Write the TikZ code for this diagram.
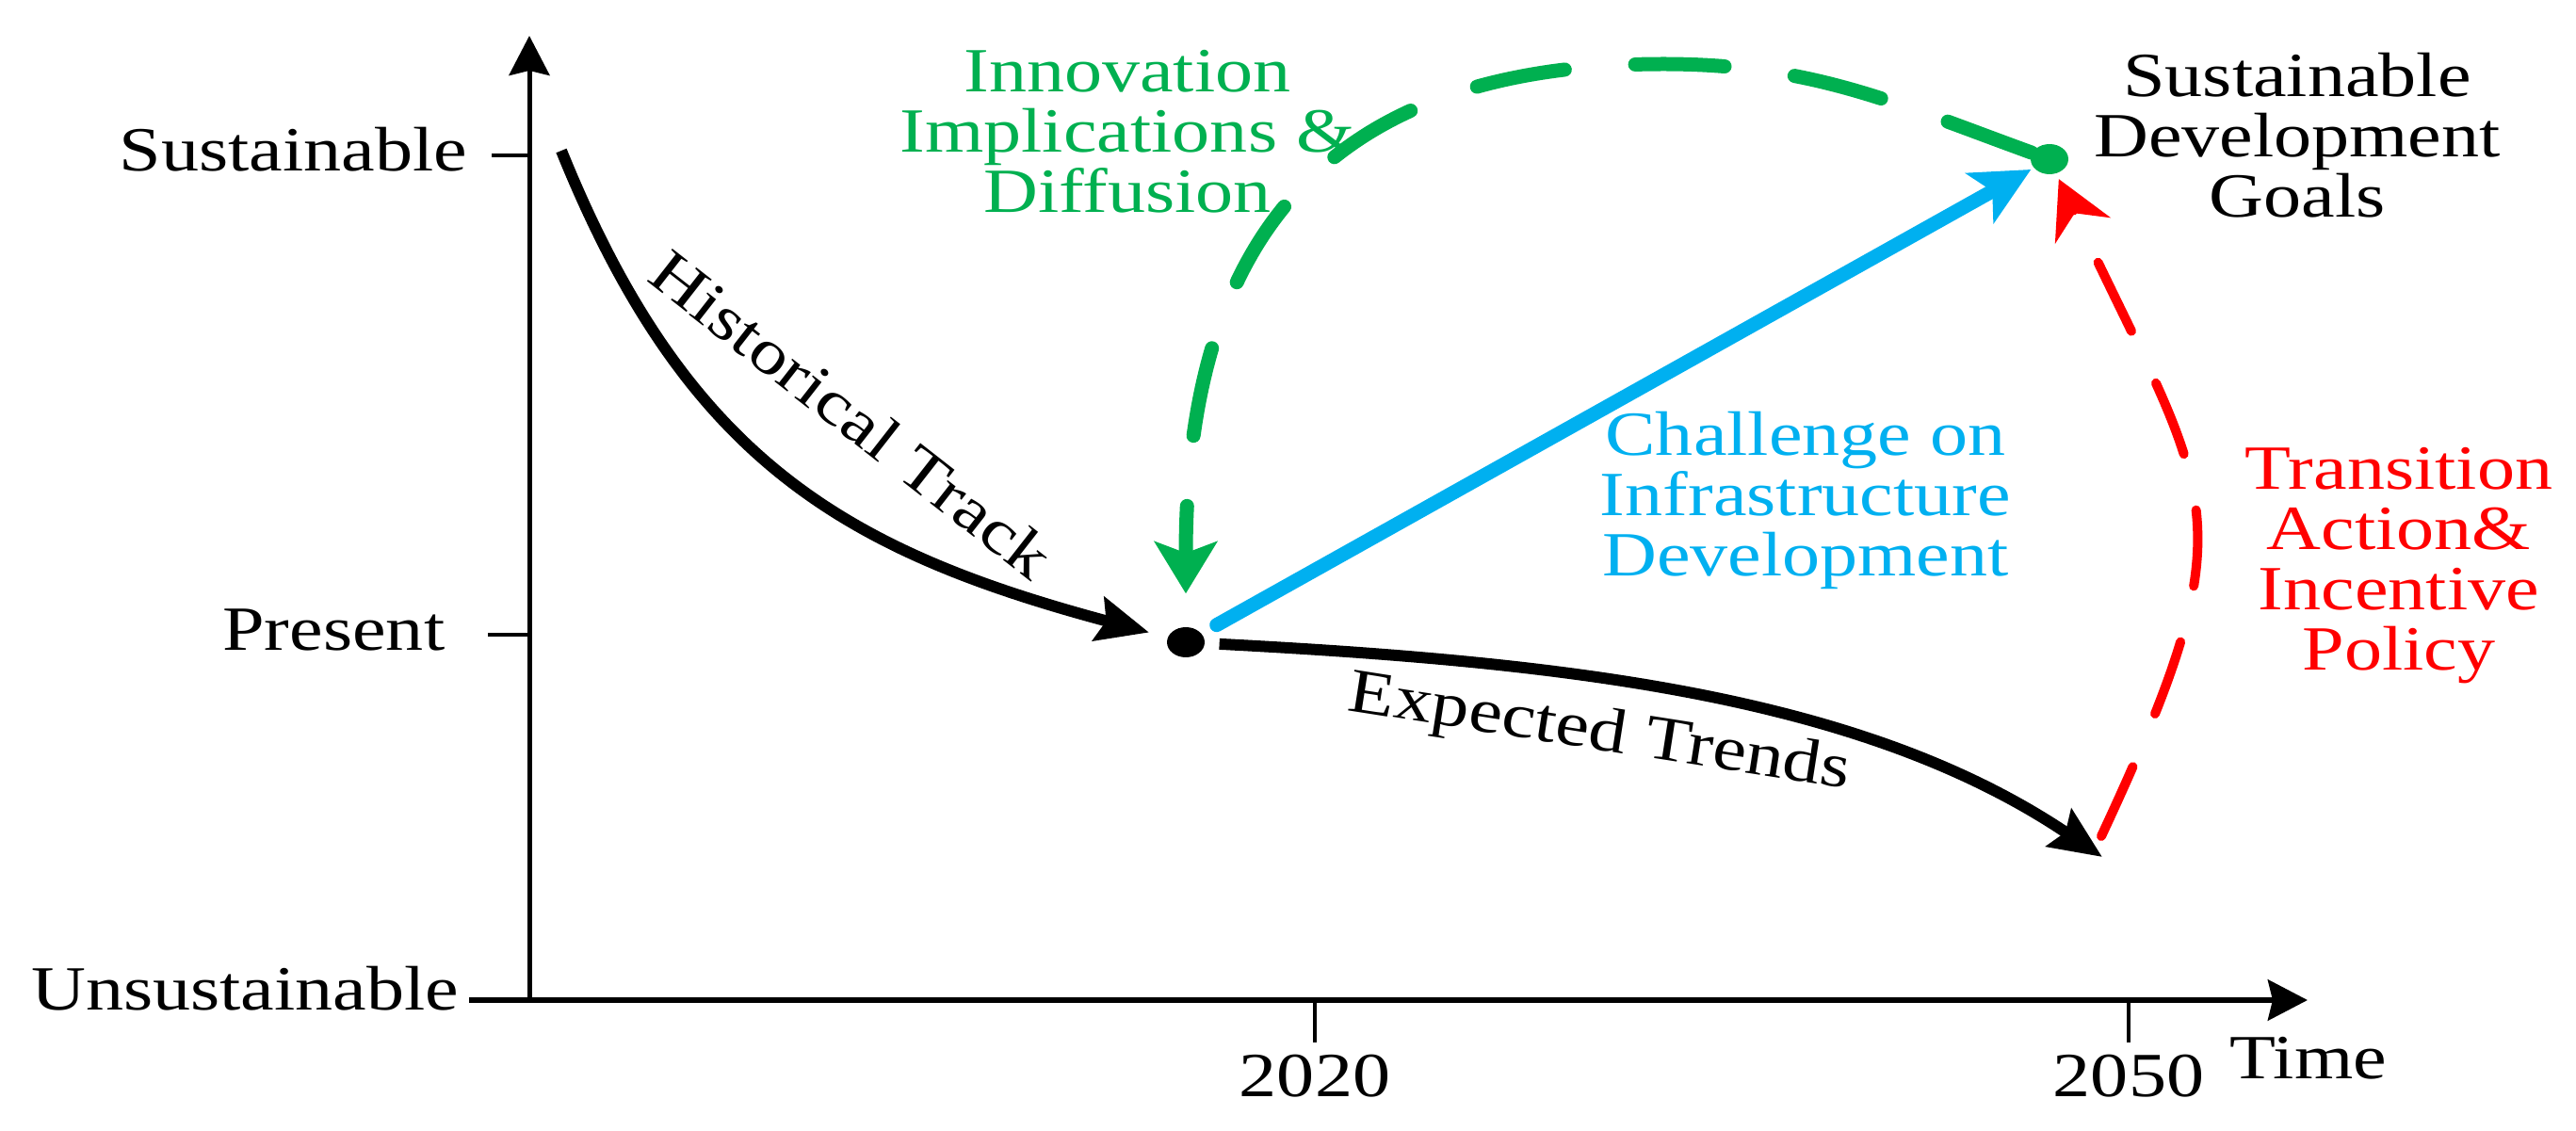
\documentclass[tikz,border=0pt]{standalone}
\usepackage{fontspec}
\setmainfont{Liberation Serif}[FakeStretch=1.2]
\usetikzlibrary{arrows.meta,shapes.geometric}
\definecolor{sdggreen}{RGB}{0,176,80}
\definecolor{infblue}{RGB}{0,176,240}
\newcommand{\xtick}[3]{\draw[tick] (#1,1.38) -- (#1,0.93); \node[anchor=base] (#2) at (#1,0.35) {#3};}
\newcommand{\ytick}[5]{\draw[tick] (#1,#2) -- (5.62,#2); \node[anchor=base east] (#3) at (#4,#2-0.17) {#5};}

\begin{document}
\begin{tikzpicture}[every node/.style={font=\fontsize{19}{18.2}\selectfont,inner sep=0pt},
  axis/.style={line width=0.06cm,-{Stealth[length=0.42cm,width=0.43cm,inset=0.05cm]}},
  tick/.style={line width=0.045cm},
  track/.style={line width=0.12cm,-{Stealth[length=0.55cm,width=0.47cm,inset=0.08cm]}},
  dot/.style={ellipse,fill=#1,minimum width=0.4cm,minimum height=0.32cm},
  dot/.default=black,
  lbl/.style={align=center}]
  \useasboundingbox (0,0) rectangle (27.35,12);

  % axes
  \coordinate (xstart) at (4.98,1.38);
  \coordinate (xend) at (24.50,1.38);
  \coordinate (ystart) at (5.62,1.38);
  \coordinate (yend) at (5.62,11.62);
  \draw[axis,line width=0.065cm] (xstart) -- (xend);
  \draw[axis,line width=0.05cm] (ystart) -- (yend);
  \ytick{5.22}{10.35}{sus}{4.97}{Sustainable}
  \ytick{5.18}{5.26}{pres}{4.73}{Present}
  \node[anchor=base east] (unsus) at (4.88,1.27) {Unsustainable};
  \xtick{13.96}{y2020}{2020}
  \xtick{22.60}{y2050}{2050}
  \node[anchor=base west] (time) at (23.67,0.55) {Time};

  % points
  \node[dot] (present) at (12.59,5.18) {};
  \node[dot=sdggreen] (sdg) at (21.76,10.31) {};
  \coordinate (histstart) at (5.96,10.40);
  \coordinate (trendend) at (22.32,2.90);
  \coordinate (redstart) at (22.31,3.12);
  \coordinate (gtop) at (17.66,11.32);

  % labels
  \node[lbl,sdggreen] (innov) at (11.97,10.60) {Innovation\\Implications \&\\Diffusion};
  \node[lbl] (goals) at (24.39,10.56) {Sustainable\\Development\\Goals};
  \node[lbl,infblue] (challenge) at (19.17,6.69) {Challenge on\\Infrastructure\\Development};
  \node[lbl,red] (policy) at (25.47,5.99) {Transition\\Action\&\\Incentive\\Policy};
  \node[rotate=-38] (hist) at (9.04,7.60) {Historical Track};

  % tracks
  \draw[track,shorten >=0.2cm] (histstart) to[out=-68,in=165,looseness=1.1] (present);
  \draw[track,shorten <=0.15cm] (present) to[out=-3,in=146,in looseness=0.8]
    node[sloped,below=0.22cm,pos=0.4] (trend) {Expected Trends} (trendend);
  \draw[infblue,line width=0.15cm,line cap=round,shorten <=0.18cm,shorten >=0.03cm,
    -{Stealth[length=0.62cm,width=0.6cm,inset=0.15cm]}] (present) -- (sdg);
  \draw[sdggreen,line width=0.15cm,line cap=round,dash pattern=on 0.95cm off 0.75cm,
    shorten >=0.35cm,-{Stealth[length=0.55cm,width=0.66cm,inset=0.12cm]}]
    (sdg) to[out=160,in=0] (gtop) to[out=180,in=90,looseness=1.25] (present);
  \draw[red,line width=0.1cm,line cap=round,dash pattern=on 0.81cm off 0.61cm,
    shorten >=0.06cm,-{Stealth[length=0.6cm,width=0.64cm,inset=0.2cm]}]
    (redstart) to[out=65,in=-65,looseness=1.4] (sdg);
\end{tikzpicture}
\end{document}
